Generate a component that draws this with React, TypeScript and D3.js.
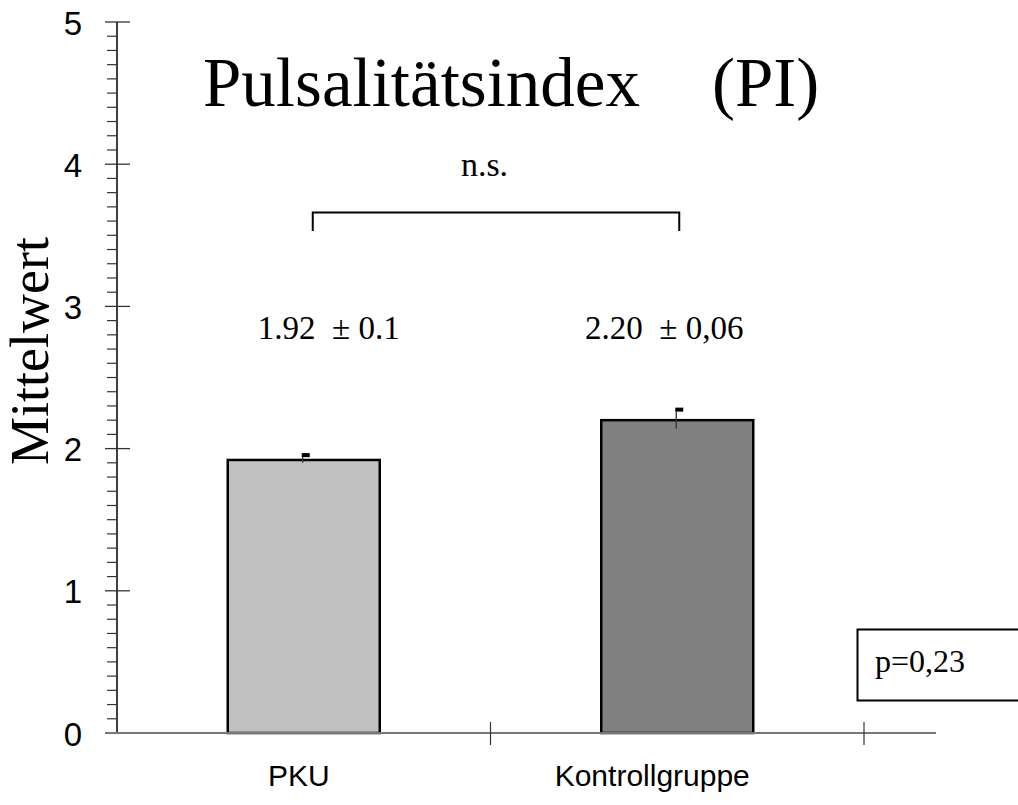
import React, { useEffect } from "react";
import * as d3 from "d3";

// Mean pulsatility index per group
const categories = ["PKU", "Kontrollgruppe"];
const means = [1.92, 2.2];
const errors = [0.02, 0.06];
const valueLabels = ["1.92  \u00b1 0.1", "2.20  \u00b1 0,06"];
const barFills = ["#c0c0c0", "#808080"];
const yTicks = [0, 1, 2, 3, 4, 5];
const titleMain = "Pulsalitätsindex";
const titleAbbr = "(PI)";
const yLabel = "Mittelwert";
const sigLabel = "n.s.";
const pLabel = "p=0,23";

const W = 1018;
const H = 805;
const SERIF = "'Liberation Serif', 'Times New Roman', serif";
const SANS = "'Liberation Sans', Arial, Helvetica, sans-serif";

export default function App() {
  useEffect(() => {
    document.body.style.margin = "0";
  }, []);

  const x0 = 117;
  const x1 = 864;
  const y = d3.scaleLinear().domain([0, 5]).range([733, 22]);
  const x = d3.scaleBand<string>().domain(categories).range([x0, x1]).padding(0);
  const barW = x.bandwidth() * 0.407;
  const center = (c: string) => (x(c) as number) + x.bandwidth() / 2;

  const minorTicks = d3.range(0, 50).map((i) => i / 10).filter((v) => Math.abs(v - Math.round(v)) > 1e-6);
  const labelShift = [-5, -25];
  const valueShift = [25, -13];

  const c0 = center(categories[0]);
  const c1 = center(categories[1]);
  const bracketY = y(3.66);
  const bracketLeg = y(3.53);

  return (
    <svg width={W} height={H} style={{ display: "block", background: "#fff" }}>
      {/* y axis */}
      <line x1={x0} x2={x0} y1={y(5)} y2={y(0)} stroke="#000" strokeWidth={1.5} />
      {minorTicks.map((v) => (
        <line key={"m" + v} x1={x0 - 10} x2={x0} y1={y(v)} y2={y(v)} stroke="#333" strokeWidth={1.2} />
      ))}
      {yTicks.map((v) => (
        <g key={"t" + v}>
          <line x1={x0 - 12} x2={x0 + 13} y1={y(v)} y2={y(v)} stroke="#333" strokeWidth={1.3} />
          <text x={82} y={y(v)} dy="0.38em" textAnchor="end" fontFamily={SANS} fontSize={33} fill="#000">
            {v}
          </text>
        </g>
      ))}

      {/* bars */}
      {categories.map((c, i) => (
        <rect
          key={"b" + c}
          x={center(c) - barW / 2}
          y={y(means[i])}
          width={barW}
          height={y(0) - y(means[i])}
          fill={barFills[i]}
          stroke="#000"
          strokeWidth={2.5}
        />
      ))}

      {/* x axis */}
      <line x1={105} x2={936} y1={y(0)} y2={y(0)} stroke="#777" strokeWidth={1.8} />
      {categories.map((c) => (
        <line
          key={"xt" + c}
          x1={(x(c) as number) + x.bandwidth()}
          x2={(x(c) as number) + x.bandwidth()}
          y1={y(0) - 11}
          y2={y(0) + 12}
          stroke="#333"
          strokeWidth={1.2}
        />
      ))}

      {/* error whiskers */}
      {categories.map((c, i) => {
        const cx = center(c) - 1;
        const top = y(means[i] + errors[i]);
        const bot = y(means[i] - errors[i]);
        return (
          <g key={"e" + c}>
            <line x1={cx} x2={cx} y1={top} y2={bot} stroke="#333" strokeWidth={1.3} />
            <rect x={cx - 1} y={top - 4} width={8} height={4} fill="#000" />
          </g>
        );
      })}

      {/* value labels */}
      {categories.map((c, i) => (
        <text
          key={"v" + c}
          x={center(c) + valueShift[i]}
          y={339}
          textAnchor="middle"
          fontFamily={SERIF}
          fontSize={33}
          fill="#000"
        >
          {valueLabels[i].replace(/ /g, "\u00a0")}
        </text>
      ))}

      {/* category labels */}
      {categories.map((c, i) => (
        <text
          key={"c" + c}
          x={center(c) + labelShift[i]}
          y={786}
          textAnchor="middle"
          fontFamily={SANS}
          fontSize={30}
          fill="#000"
        >
          {c}
        </text>
      ))}

      {/* significance bracket */}
      <path
        d={`M${c0 + 9},${bracketLeg}V${bracketY}H${c1 + 2}V${bracketLeg}`}
        fill="none"
        stroke="#000"
        strokeWidth={2}
      />
      <text x={(c0 + c1) / 2 - 6} y={176} textAnchor="middle" fontFamily={SERIF} fontSize={34} fill="#000">
        {sigLabel}
      </text>

      {/* title */}
      <text x={203} y={106} fontFamily={SERIF} fontSize={69} fill="#000">
        {titleMain}
      </text>
      <text x={712} y={106} fontFamily={SERIF} fontSize={69} fill="#000">
        {titleAbbr}
      </text>

      {/* y axis title */}
      <text
        transform={`translate(48, 351) rotate(-90)`}
        textAnchor="middle"
        fontFamily={SERIF}
        fontSize={54}
        fill="#000"
      >
        {yLabel}
      </text>

      {/* p value box */}
      <rect x={857.5} y={629.5} width={200} height={71} fill="#fff" stroke="#000" strokeWidth={2} />
      <text x={875} y={672} fontFamily={SERIF} fontSize={32} fill="#000">
        {pLabel}
      </text>
    </svg>
  );
}
